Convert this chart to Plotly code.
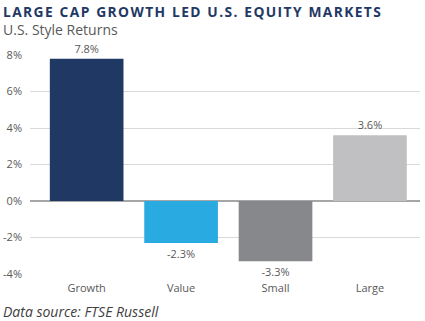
import plotly.graph_objects as go

categories = ["Growth", "Value", "Small", "Large"]
values = [7.8, -2.3, -3.3, 3.6]
labels = ["7.8%", "-2.3%", "-3.3%", "3.6%"]
colors = ["#203864", "#29ABE2", "#87888C", "#C0C0C2"]
tick_vals = [-4, -2, 0, 2, 4, 6, 8]
tick_text = ["-4%", "-2%", "0%", "2%", "4%", "6%", "8%"]

FONT = "Open Sans"
TITLE = "LARGE CAP GROWTH LED U.S. EQUITY MARKETS"
# letter-spaced title (hair spaces between letters, wider gap between words)
spaced_title = "&#8194;".join("&#8202;".join(w) for w in TITLE.split(" "))

fig = go.Figure()
fig.add_trace(go.Bar(
    x=list(range(len(categories))), y=values,
    marker=dict(color=colors, line=dict(width=0)),
    width=0.78,
    text=labels, textposition="outside",
    textfont=dict(family=FONT, size=11, color="#595959"),
    cliponaxis=False,
))

fig.update_layout(
    width=425, height=321,
    margin=dict(l=30, r=5, t=55, b=47),
    paper_bgcolor="white", plot_bgcolor="white",
    showlegend=False,
    font=dict(family=FONT, color="#595959"),
    xaxis=dict(range=[-0.6, 3.53], tickvals=list(range(len(categories))),
               ticktext=categories, showgrid=False, zeroline=False,
               showline=False, ticks="", ticklabelstandoff=6, automargin=False,
               tickfont=dict(size=11, color="#595959")),
    yaxis=dict(range=[-4, 8], tickvals=tick_vals, ticktext=tick_text,
               showgrid=True, gridcolor="#D9D9D9", gridwidth=1,
               zeroline=True, zerolinecolor="#A6A6A6", zerolinewidth=1.5,
               showline=False, ticks="", ticklabelstandoff=7, automargin=False,
               tickfont=dict(size=11, color="#595959")),
    annotations=[
        dict(text="<b>" + spaced_title + "</b>",
             xref="paper", yref="paper", x=-29/390, y=1 + 55/219, xanchor="left", yanchor="top",
             showarrow=False, font=dict(family=FONT, size=13.8, color="#1F3864")),
        dict(text="U.S. Style Returns",
             xref="paper", yref="paper", x=-29/390, y=1 + 37/219, xanchor="left", yanchor="top",
             showarrow=False, font=dict(family=FONT, size=14, color="#595959")),
        dict(text="<i>Data source: FTSE Russell</i>",
             xref="paper", yref="paper", x=-29/390, y=-26/219, xanchor="left", yanchor="top",
             showarrow=False, font=dict(family=FONT, size=14, color="#404040")),
    ],
)

fig.write_html("out.html")
